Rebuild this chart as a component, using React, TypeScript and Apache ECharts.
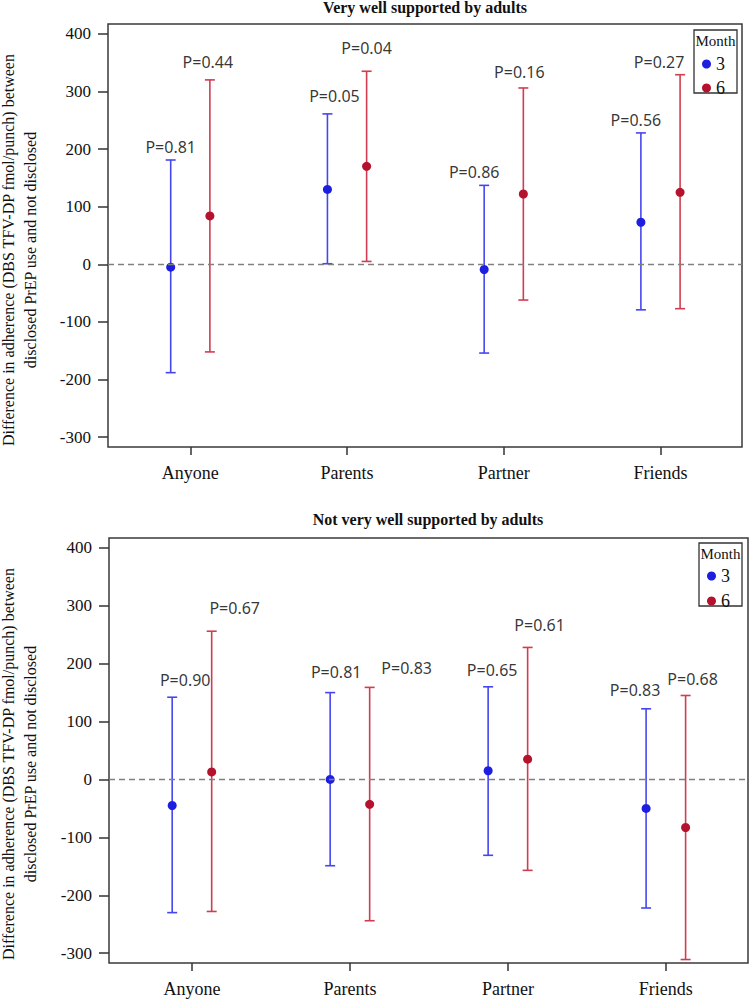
import React, { useEffect, useRef } from "react";
import * as echarts from "echarts";

// ---------- data ----------
const categories = ["Anyone", "Parents", "Partner", "Friends"];
const yTickValues = [-300, -200, -100, 0, 100, 200, 300, 400];
const xTickValues = [1, 2, 3, 4];
const monthNames = ["3", "6"];

// Panel 1: Very well supported by adults
const top3Est = [-5, 130, -9, 73];
const top3Lo = [-188, 1, -154, -79];
const top3Hi = [181, 261, 137, 228];
const top3P = ["P=0.81", "P=0.05", "P=0.86", "P=0.56"];
const top6Est = [84, 170, 122, 125];
const top6Lo = [-152, 5, -62, -77];
const top6Hi = [320, 335, 306, 329];
const top6P = ["P=0.44", "P=0.04", "P=0.16", "P=0.27"];

// Panel 2: Not very well supported by adults
const bot3Est = [-45, 0, 15, -50];
const bot3Lo = [-230, -149, -131, -222];
const bot3Hi = [142, 150, 160, 122];
const bot3P = ["P=0.90", "P=0.81", "P=0.65", "P=0.83"];
const bot6Est = [13, -43, 35, -83];
const bot6Lo = [-228, -244, -157, -311];
const bot6Hi = [256, 159, 228, 145];
const bot6P = ["P=0.67", "P=0.83", "P=0.61", "P=0.68"];

// ---------- layout / style ----------
const SERIF = "'Liberation Serif', 'DejaVu Serif', 'Times New Roman', serif";
const SANS = "'Noto Sans', 'Open Sans', sans-serif";
const BLUE_LINE = "#4646f0";
const BLUE_PT = "#1e1ee0";
const RED_LINE = "#d23c50";
const RED_PT = "#b4122d";
const DODGE = 0.125;
// label nudges in pixels: [dx, height of label centre above the upper cap]
const NUDGE_TOP3 = [[0, 13], [7, 18], [-10, 13], [-5, 13]];
const NUDGE_TOP6 = [[-2, 18], [0, 23], [-4, 16], [-21, 13]];
const NUDGE_BOT3 = [[13, 17], [6, 21], [4, 17], [-11, 19]];
const NUDGE_BOT6 = [[23, 23], [37, 19], [12, 22], [7, 16]];

const YTITLE = "Difference in adherence (DBS TFV-DP fmol/punch) between\ndisclosed PrEP use and not disclosed";

function errorBarSeries(name: string, idx: number, lo: number[], hi: number[], off: number, color: string, withZero: boolean) {
  const s: any = {
    type: "custom",
    name,
    xAxisIndex: idx,
    yAxisIndex: idx,
    silent: true,
    z: 2,
    data: categories.map((_, i) => [i + 1 + off, lo[i], hi[i]]),
    renderItem: (params: any, api: any) => {
      const x = api.value(0);
      const pLo = api.coord([x, api.value(1)]);
      const pHi = api.coord([x, api.value(2)]);
      const w = 5;
      const st = { stroke: color, lineWidth: 1.6 };
      return {
        type: "group",
        children: [
          { type: "line", shape: { x1: pLo[0], y1: pLo[1], x2: pHi[0], y2: pHi[1] }, style: st },
          { type: "line", shape: { x1: pLo[0] - w, y1: pLo[1], x2: pLo[0] + w, y2: pLo[1] }, style: st },
          { type: "line", shape: { x1: pHi[0] - w, y1: pHi[1], x2: pHi[0] + w, y2: pHi[1] }, style: st },
        ],
      };
    },
  };
  if (withZero) {
    s.markLine = {
      silent: true,
      symbol: "none",
      label: { show: false },
      lineStyle: { color: "#808080", width: 1.3, type: [6, 4] },
      data: [{ yAxis: 0 }],
    };
  }
  return s;
}

function pointSeries(name: string, idx: number, est: number[], off: number, color: string) {
  return {
    type: "scatter",
    name,
    xAxisIndex: idx,
    yAxisIndex: idx,
    silent: true,
    z: 3,
    symbol: "circle",
    symbolSize: 9,
    itemStyle: { color, opacity: 1 },
    data: categories.map((_, i) => [i + 1 + off, est[i]]),
  };
}

function labelSeries(idx: number, hi: number[], off: number, texts: string[], nudge: number[][]) {
  return {
    type: "scatter",
    name: "plabel" + idx + off,
    xAxisIndex: idx,
    yAxisIndex: idx,
    silent: true,
    z: 4,
    symbol: "circle",
    symbolSize: 1,
    itemStyle: { color: "rgba(0,0,0,0)" },
    data: categories.map((_, i) => ({
      value: [i + 1 + off, hi[i]],
      label: {
        show: true,
        position: "inside",
        offset: [nudge[i][0], -nudge[i][1]],
        formatter: texts[i],
        fontFamily: SANS,
        fontSize: 16,
        color: "#000",
      },
    })),
  };
}

function xAxis(idx: number) {
  return {
    type: "value",
    gridIndex: idx,
    min: 0.475,
    max: 4.52,
    axisLine: { show: false, onZero: false },
    splitLine: { show: false },
    axisTick: { show: true, customValues: xTickValues, length: 8, lineStyle: { color: "#333", width: 1.5 } },
    axisLabel: {
      show: true,
      customValues: xTickValues,
      formatter: (v: number) => "{s|" + (categories[Math.round(v) - 1] || "") + "}",
      margin: 17,
      fontFamily: SERIF,
      fontSize: 18,
      color: "#111",
      rich: { s: { fontFamily: SERIF, fontSize: 18, color: "#111" } },
    },
  };
}

function yAxis(idx: number) {
  return {
    type: "value",
    gridIndex: idx,
    min: -317,
    max: 417,
    axisLine: { show: false, onZero: false },
    splitLine: { show: false },
    axisTick: { show: true, customValues: yTickValues, length: 10, lineStyle: { color: "#333", width: 1.5 } },
    axisLabel: {
      show: true,
      customValues: yTickValues,
      formatter: (v: number) => "{s|" + String(Math.round(v)) + "}",
      margin: 17,
      fontFamily: SERIF,
      fontSize: 17,
      color: "#111",
      rich: { s: { fontFamily: SERIF, fontSize: 17, color: "#111" } },
    },
  };
}

function legendBox(x: number, y: number) {
  return [
    { type: "rect", shape: { x, y, width: 43, height: 63 }, style: { fill: "#fff", stroke: "#333", lineWidth: 1.3 }, z: 10 },
    {
      type: "text",
      x: x + 21.5,
      y: y + 11,
      z: 11,
      style: { text: "Month", fontFamily: SERIF, fontSize: 15, fill: "#111", align: "center", verticalAlign: "middle" },
    },
  ];
}

function legend(left: number, top: number, gap: number) {
  return {
    data: monthNames,
    orient: "vertical",
    left,
    top,
    padding: 0,
    itemWidth: 9,
    itemHeight: 9,
    itemGap: gap,
    icon: "circle",
    selectedMode: false,
    z: 12,
    formatter: (n: string) => "{s|" + n + "}",
    textStyle: {
      fontFamily: SERIF,
      fontSize: 18,
      color: "#111",
      lineHeight: 14,
      rich: { s: { fontFamily: SERIF, fontSize: 18, color: "#111", lineHeight: 14 } },
    },
  };
}

export default function App() {
  const ref = useRef<HTMLDivElement>(null);
  useEffect(() => {
    document.body.style.margin = "0";
    if (!ref.current) return;
    const chart = echarts.init(ref.current, null, { renderer: "svg" });
    const option: any = {
      animation: false,
      backgroundColor: "#fff",
      grid: [
        { left: 108, top: 24, width: 634, height: 423, show: true, borderColor: "#3a3a3a", borderWidth: 1.5, backgroundColor: "rgba(0,0,0,0)" },
        { left: 109, top: 538, width: 639, height: 425, show: true, borderColor: "#3a3a3a", borderWidth: 1.5, backgroundColor: "rgba(0,0,0,0)" },
      ],
      xAxis: [xAxis(0), xAxis(1)],
      yAxis: [yAxis(0), yAxis(1)],
      legend: [legend(702, 55, 6), legend(707, 567, 7)],
      graphic: [
        {
          type: "text",
          x: 425,
          y: 7,
          style: { text: "Very well supported by adults", fontFamily: SERIF, fontWeight: "bold", fontSize: 16, fill: "#111", align: "center", verticalAlign: "middle" },
        },
        {
          type: "text",
          x: 428,
          y: 519,
          style: { text: "Not very well supported by adults", fontFamily: SERIF, fontWeight: "bold", fontSize: 16, fill: "#111", align: "center", verticalAlign: "middle" },
        },
        {
          type: "text",
          x: 19,
          y: 250,
          rotation: Math.PI / 2,
          style: { text: YTITLE, fontFamily: SERIF, fontSize: 16, lineHeight: 22, fill: "#111", align: "center", verticalAlign: "middle" },
        },
        {
          type: "text",
          x: 19,
          y: 764,
          rotation: Math.PI / 2,
          style: { text: YTITLE, fontFamily: SERIF, fontSize: 16, lineHeight: 22, fill: "#111", align: "center", verticalAlign: "middle" },
        },
        ...legendBox(694, 30),
        ...legendBox(699, 543),
      ],
      series: [
        errorBarSeries("ci3a", 0, top3Lo, top3Hi, -DODGE, BLUE_LINE, true),
        errorBarSeries("ci6a", 0, top6Lo, top6Hi, DODGE, RED_LINE, false),
        pointSeries(monthNames[0], 0, top3Est, -DODGE, BLUE_PT),
        pointSeries(monthNames[1], 0, top6Est, DODGE, RED_PT),
        labelSeries(0, top3Hi, -DODGE, top3P, NUDGE_TOP3),
        labelSeries(0, top6Hi, DODGE, top6P, NUDGE_TOP6),
        errorBarSeries("ci3b", 1, bot3Lo, bot3Hi, -DODGE, BLUE_LINE, true),
        errorBarSeries("ci6b", 1, bot6Lo, bot6Hi, DODGE, RED_LINE, false),
        pointSeries(monthNames[0], 1, bot3Est, -DODGE, BLUE_PT),
        pointSeries(monthNames[1], 1, bot6Est, DODGE, RED_PT),
        labelSeries(1, bot3Hi, -DODGE, bot3P, NUDGE_BOT3),
        labelSeries(1, bot6Hi, DODGE, bot6P, NUDGE_BOT6),
      ],
    };
    chart.setOption(option);
    return () => chart.dispose();
  }, []);
  return <div ref={ref} style={{ width: 749, height: 1000 }} />;
}
